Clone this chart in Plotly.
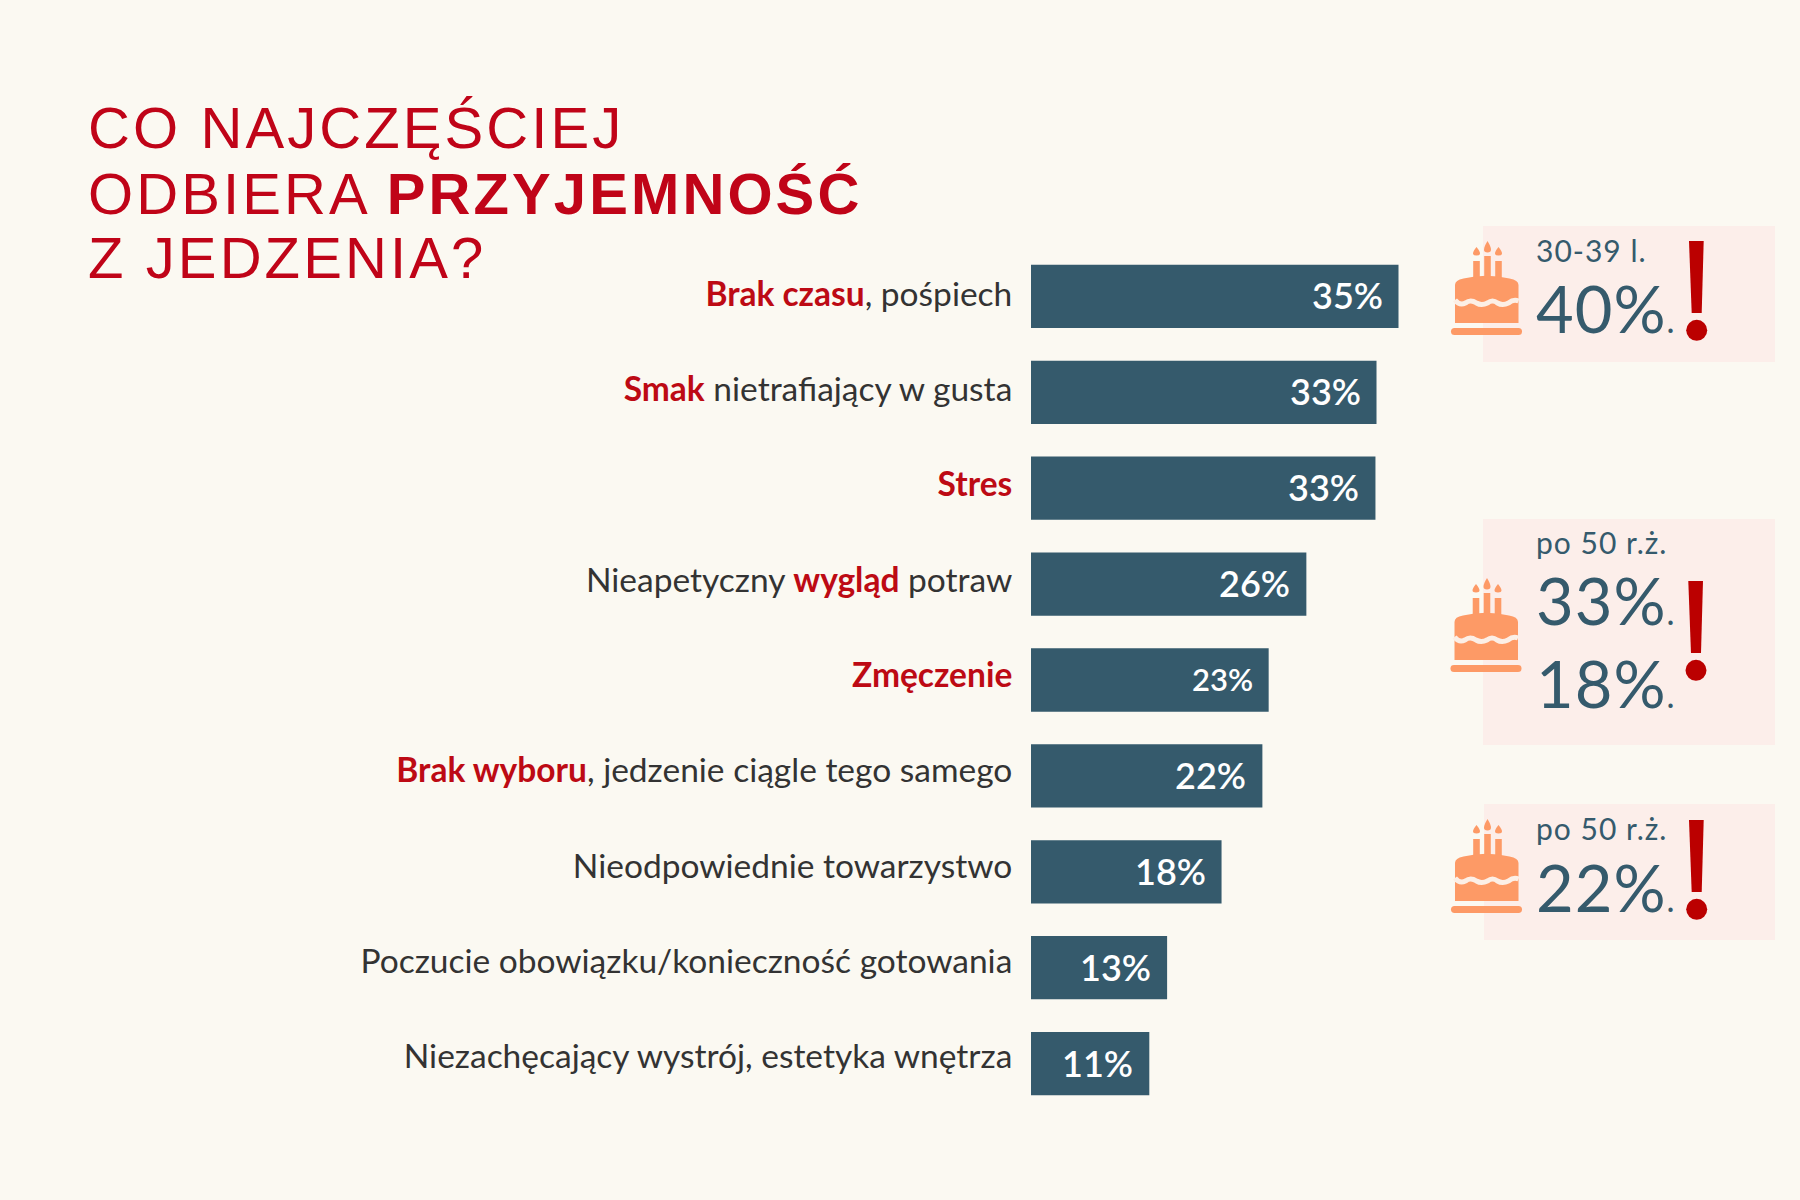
import plotly.graph_objects as go

W, H = 1800, 1200
BG = "#fbf9f2"
PANEL = "#fceeea"
BLUE = "#355a6c"
RED = "#c00418"
LABEL_RED = "#bd0a14"
BANG = "#bb0000"
ORANGE = "#fd9a66"
DARK = "#333333"

plain_before = ["", "", "", "Nieapetyczny ", "", "", "Nieodpowiednie towarzystwo", "Poczucie obowiązku/konieczność gotowania", "Niezachęcający wystrój, estetyka wnętrza"]
accent = ["Brak czasu", "Smak", "Stres", "wygląd", "Zmęczenie", "Brak wyboru", "", "", ""]
plain_after = [", pośpiech", " nietrafiający w gusta", "", " potraw", "", ", jedzenie ciągle tego samego", "", "", ""]
values = [35.1, 33, 32.9, 26.3, 22.7, 22.1, 18.2, 13, 11.3]
value_labels = ["35%", "33%", "33%", "26%", "23%", "22%", "18%", "13%", "11%"]


def px(x):
    return x / W


def py(y):
    return 1 - y / H


def rich(a, b, c):
    mid = f'<span style="color:{LABEL_RED}"><b>{b}</b></span>' if b else ""
    return a + mid + c


ticktext = [rich(a, b, c) for a, b, c in zip(plain_before, accent, plain_after)]
positions = list(range(len(values)))
ROW_PX = 95.9
tick_positions = [i - (2.3 + 0.6 * i) / ROW_PX for i in positions]

fig = go.Figure(go.Bar(x=values, y=positions, orientation="h", marker=dict(color=BLUE, line=dict(width=0)), width=0.66))

shapes = []


def rect(x0, y0, x1, y1, color):
    shapes.append(dict(type="rect", xref="paper", yref="paper", x0=px(x0), x1=px(x1), y0=py(y0), y1=py(y1), fillcolor=color, line=dict(width=0), layer="below"))


def path(points, color):
    shapes.append(dict(type="path", xref="paper", yref="paper", path=points, fillcolor=color, line=dict(width=0), layer="above"))


def cake(ox, oy):
    def P(x, y):
        return f"{px(ox + x):.5f},{py(oy + y):.5f}"

    # plate
    path(f"M{P(3,87)} L{P(67,87)} Q{P(70.5,87)} {P(70.5,90.5)} Q{P(70.5,94)} {P(67,94)} L{P(3,94)} Q{P(-0.5,94)} {P(-0.5,90.5)} Q{P(-0.5,87)} {P(3,87)} Z", ORANGE)
    # body
    path(f"M{P(3.5,82)} L{P(3.5,44)} Q{P(3.5,39)} {P(12,37.5)} Q{P(35,32)} {P(58,37.5)} Q{P(67,39)} {P(67,44)} L{P(67,82)} Z", ORANGE)
    # candles
    for cx, top in ((25, 20), (36, 15), (47, 20)):
        path(f"M{P(cx-3.3,37)} L{P(cx-3.3,top)} L{P(cx+3.3,top)} L{P(cx+3.3,37)} Z", ORANGE)
    # flames
    for cx, top, bot in ((25, 6, 14.5), (36, 0, 11.5), (47, 6, 14.5)):
        path(f"M{P(cx,top)} Q{P(cx+7,bot)} {P(cx,bot)} Q{P(cx-7,bot)} {P(cx,top)} Z", ORANGE)
    # icing wave
    wave = f"M{P(3.5,59)} Q{P(8,65)} {P(14,62)} Q{P(19,58)} {P(25,62)} Q{P(30,65)} {P(36,62)} Q{P(41,58)} {P(46,62)} Q{P(51,65)} {P(57,62)} Q{P(62,58)} {P(67,60)}"
    shapes.append(dict(type="path", xref="paper", yref="paper", path=wave, line=dict(color="#fcefe6", width=5), layer="above"))


def bang(ox, oy):
    def P(x, y):
        return f"{px(ox + x):.5f},{py(oy + y):.5f}"

    path(f"M{P(0,0)} L{P(14.7,0)} L{P(12.7,72)} L{P(2.7,72)} Z", BANG)
    shapes.append(dict(type="circle", xref="paper", yref="paper", x0=px(ox - 2.8), x1=px(ox + 18.2), y0=py(oy + 99.8), y1=py(oy + 78.8), fillcolor=BANG, line=dict(width=0), layer="above"))


rect(1483, 226, 1775, 362, PANEL)
rect(1483, 519, 1775, 745, PANEL)
rect(1484, 804, 1775, 940, PANEL)
cake(1451.5, 241)
cake(1451, 578)
cake(1451.5, 819)
bang(1689, 241)
bang(1688.3, 581)
bang(1689, 820)

annotations = []


def text(x, y, s, size, color, weight=400, family="Lato", xanchor="left"):
    annotations.append(dict(xref="paper", yref="paper", x=px(x), y=py(y), text=s, showarrow=False, xanchor=xanchor, yanchor="middle", font=dict(family=family, size=size, color=color, weight=weight), align="left"))


T = "letter-spacing:3.1px"
text(86, 127, f'<span style="{T}">CO NAJCZĘŚCIEJ</span>', 58, RED, family="Liberation Sans")
text(86, 193, f'<span style="{T}">ODBIERA </span><span style="{T}"><b>PRZYJEMNOŚĆ</b></span>', 58, RED, family="Liberation Sans")
text(86, 258, f'<span style="{T}">Z JEDZENIA?</span>', 58, RED, family="Liberation Sans")

dot = '<span style="font-size:34px">.</span>'
S = "letter-spacing:1px"
text(1534, 250, f'<span style="{S}">30-39 l.</span>', 30, BLUE)
text(1534, 308, f'<span style="{S}">40%</span>' + dot, 65, BLUE)
text(1534, 542, f'<span style="{S}">po 50 r.ż.</span>', 30, BLUE)
text(1534, 600, f'<span style="{S}">33%</span>' + dot, 65, BLUE)
text(1534, 683, f'<span style="{S}">18%</span>' + dot, 65, BLUE)
text(1534, 828, f'<span style="{S}">po 50 r.ż.</span>', 30, BLUE)
text(1534, 887, f'<span style="{S}">22%</span>' + dot, 65, BLUE)

for i, (v, lab) in enumerate(zip(values, value_labels)):
    annotations.append(dict(x=v, y=i, xref="x", yref="y", yshift=1, text=lab, showarrow=False, xanchor="right", xshift=-14, yanchor="middle", font=dict(family="Lato", size=31 if lab == "23%" else 36, color="#ffffff", weight=600)))

fig.update_layout(
    width=W,
    height=H,
    margin=dict(l=0, r=0, t=0, b=0),
    paper_bgcolor=BG,
    plot_bgcolor=BG,
    showlegend=False,
    shapes=shapes,
    annotations=annotations,
    xaxis=dict(domain=[px(1031), 1], range=[0, 769 / 10.47], visible=False, fixedrange=True),
    yaxis=dict(
        domain=[py(1111.5), py(248.5)],
        range=[8.5, -0.5],
        tickmode="array",
        tickvals=tick_positions,
        ticktext=ticktext,
        showgrid=False,
        zeroline=False,
        showline=False,
        ticks="outside",
        ticklen=11,
        tickcolor="rgba(0,0,0,0)",
        tickfont=dict(family="Lato", size=33.5, color=DARK),
        automargin=False,
    ),
)

fig.write_html("out.html", config={"displayModeBar": False}, post_script="document.body.style.margin='0';document.body.style.background='" + BG + "';")
